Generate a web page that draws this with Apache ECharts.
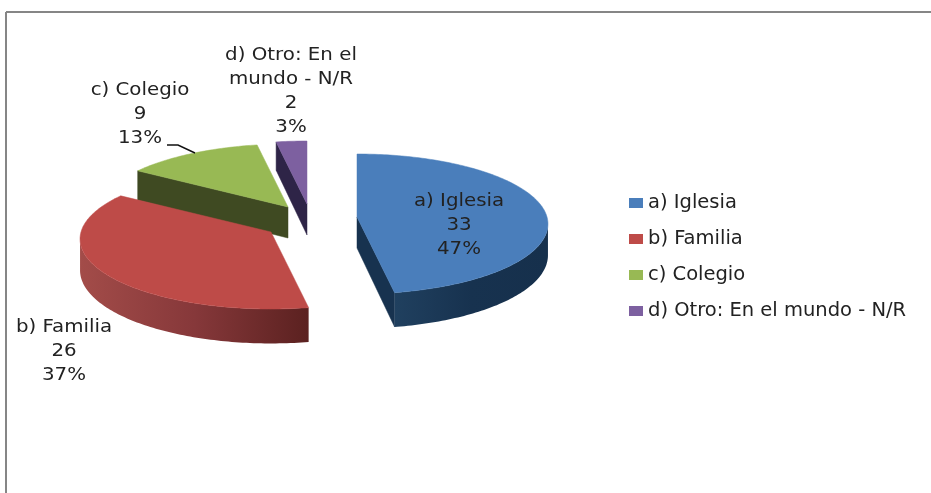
<!DOCTYPE html>
<html>
<head>
<meta charset="utf-8">
<style>html,body{margin:0;padding:0;background:#fff;overflow:hidden}#c{width:931px;height:493px}</style>
<script src="https://cdn.jsdelivr.net/npm/echarts@6/dist/echarts.min.js"></script>
</head>
<body>
<div id="c"></div>
<script>
// ---- data ----
const categories = ['a) Iglesia', 'b) Familia', 'c) Colegio', 'd) Otro: En el mundo - N/R'];
const values = [33, 26, 9, 2];
const wrappedNames = ['a) Iglesia', 'b) Familia', 'c) Colegio', 'd) Otro: En el\nmundo - N/R'];

// ---- styles / layout ----
const topColors = ['#4a7ebb', '#be4b48', '#98b954', '#7d60a0'];
const cutColors = ['#17324f', '#6a2624', '#3f4a22', '#2e2447'];
const wallStops = [
  ['#20405f', '#17324f', '#16304c'],
  ['#a34c49', '#86383a', '#5b2120'],
  ['#4f5e2b', '#47532a', '#3f4a22'],
  ['#3a2d5a', '#33284f', '#2e2447']
];
const apexes = [[357, 217], [271, 232], [288, 207], [307, 204]];
const labelPos = [[459, 225], [64, 351], [140, 114], [291, 91]];
const zOrder = [4, 3, 2, 1];
const RX = 190, RY = 69.3, K = 0.1, DEPTH = 31;
const FONT = '"DejaVu Sans"', FS = 18, STRETCH = 1.1;

const total = values.reduce((a, b) => a + b, 0);
function project(apex, deg) {
  const t = deg * Math.PI / 180, u = Math.sin(t), v = Math.cos(t), s = 1 / (1 + K * v);
  return { x: apex[0] + RX * u * s, y: apex[1] - RY * v * s, s };
}

function render(i) {
  return function () {
    const before = values.slice(0, i).reduce((a, b) => a + b, 0);
    const a0 = before / total * 360, a1 = (before + values[i]) / total * 360;
    const apex = apexes[i];
    const rim = [];
    for (let d = a0; d < a1; d += 1) rim.push(project(apex, d));
    rim.push(project(apex, a1));
    const A = { x: apex[0], y: apex[1], s: 1 };
    const children = [];
    const drop = p => [p.x, p.y + DEPTH * p.s];
    const quad = (p, q, fill) => children.push({
      type: 'polygon',
      shape: { points: [[p.x, p.y], [q.x, q.y], drop(q), drop(p)] },
      style: { fill, stroke: fill, lineWidth: 0.5 }
    });
    // cut faces: only those turned towards the viewer
    if (rim[0].x < A.x) quad(A, rim[0], cutColors[i]);
    if (A.x < rim[rim.length - 1].x) quad(rim[rim.length - 1], A, cutColors[i]);
    // outer wall, front part, as one band
    const front = [];
    for (let k = 0; k < rim.length - 1; k++) {
      if (rim[k + 1].x < rim[k].x) {
        if (!front.length) front.push(rim[k]);
        front.push(rim[k + 1]);
      }
    }
    if (front.length) {
      const xs = front.map(p => p.x), x0 = Math.min(...xs), x1 = Math.max(...xs);
      const st = wallStops[i];
      const grad = {
        type: 'linear', x: x0, y: 0, x2: x1, y2: 0, global: true,
        colorStops: [{ offset: 0, color: st[0] }, { offset: 0.5, color: st[1] }, { offset: 1, color: st[2] }]
      };
      const band = front.map(p => [p.x, p.y]).concat(front.slice().reverse().map(drop));
      children.push({ type: 'polygon', shape: { points: band }, style: { fill: grad } });
    }
    // top face
    children.push({
      type: 'polygon',
      shape: { points: [[A.x, A.y]].concat(rim.map(p => [p.x, p.y])) },
      style: { fill: topColors[i], stroke: topColors[i], lineWidth: 0.5 }
    });
    // leader line of the Colegio label
    if (i === 2) {
      children.push({
        type: 'polyline', shape: { points: [[167, 145], [178, 145], [195, 153]] },
        style: { stroke: '#111', lineWidth: 1.5, fill: null }
      });
    }
    // data label
    children.push({
      type: 'text', x: labelPos[i][0], y: labelPos[i][1], scaleX: STRETCH,
      style: {
        text: wrappedNames[i] + '\n' + values[i] + '\n' + Math.round(values[i] / total * 100) + '%',
        fill: '#222', font: FS + 'px ' + FONT, lineHeight: 24,
        align: 'center', verticalAlign: 'middle'
      }
    });
    return { type: 'group', children };
  };
}

const chart = echarts.init(document.getElementById('c'), null, { renderer: 'canvas' });
chart.setOption({
  animation: false,
  backgroundColor: '#fff',
  graphic: [
    { type: 'line', z: 0, shape: { x1: 6, y1: 12, x2: 931, y2: 12 }, style: { stroke: '#868686', lineWidth: 2 } },
    { type: 'line', z: 0, shape: { x1: 6, y1: 12, x2: 6, y2: 493 }, style: { stroke: '#868686', lineWidth: 2 } }
  ],
  legend: {
    orient: 'vertical', left: 624, top: 188, icon: 'rect',
    itemWidth: 14, itemHeight: 10, itemGap: 16,
    data: categories,
    textStyle: { color: '#222', fontFamily: FONT, fontSize: 19.5, lineHeight: 20 }
  },
  series: categories.map((name, i) => ({
    type: 'custom', name, coordinateSystem: 'none', z: zOrder[i], silent: true,
    itemStyle: { color: topColors[i] },
    data: [values[i]],
    renderItem: render(i)
  }))
});
</script>
</body>
</html>
